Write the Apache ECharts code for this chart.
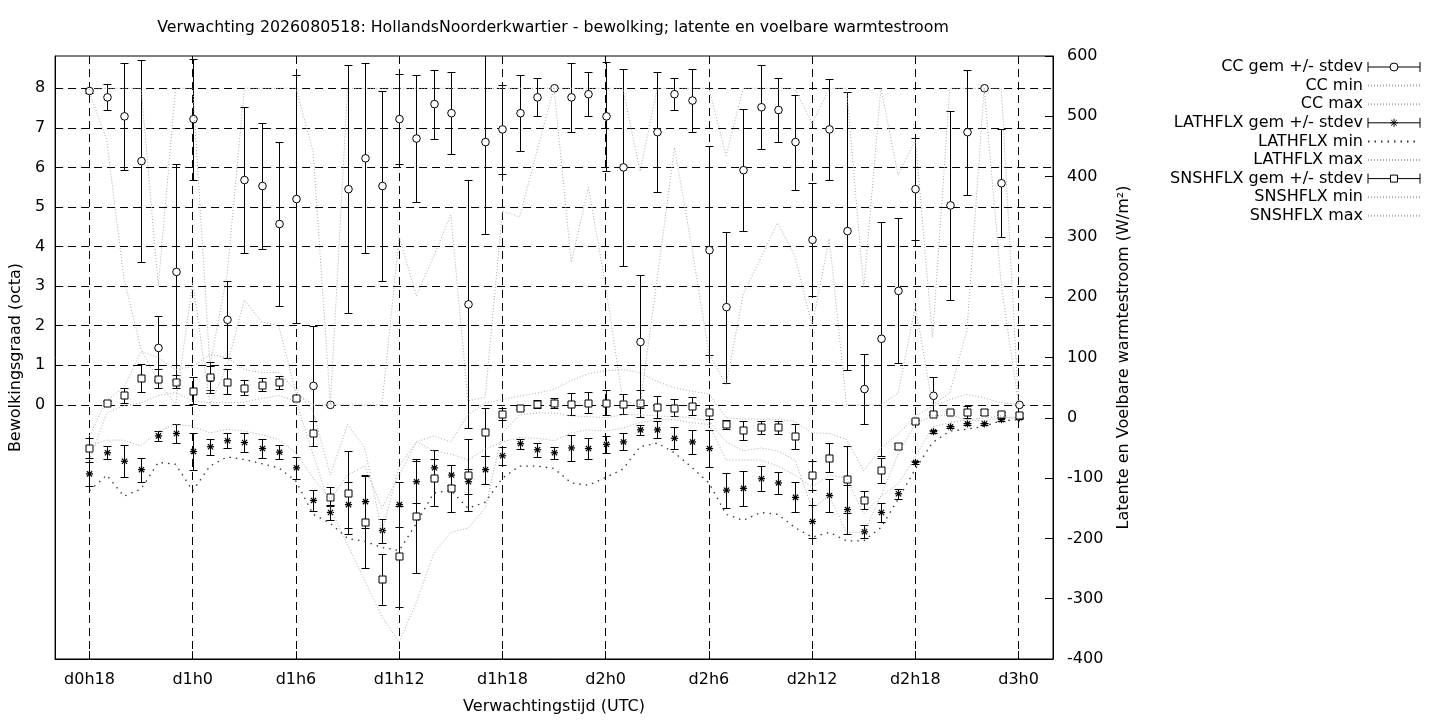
<!DOCTYPE html>
<html><head><meta charset="utf-8">
<script src="https://cdn.jsdelivr.net/npm/echarts@6/dist/echarts.min.js"></script>
<style>html,body{margin:0;padding:0;background:#fff}#c{width:1440px;height:720px}</style>
</head><body><div id="c"></div>
<script>
const hours = [18,19,20,21,22,23,24,25,26,27,28,29,30,31,32,33,34,35,36,37,38,39,40,41,42,43,44,45,46,47,48,49,50,51,52,53,54,55,56,57,58,59,60,61,62,63,64,65,66,67,68,69,70,71,72];
const xTicks = [18,24,30,36,42,48,54,60,66,72];
const xTickLabels = ['d0h18','d1h0','d1h6','d1h12','d1h18','d2h0','d2h6','d2h12','d2h18','d3h0'];
const ccTicks = [0,1,2,3,4,5,6,7,8];

const ccGem = [7.93,7.77,7.29,6.16,1.44,3.36,7.22,0.68,2.15,5.68,
 5.53,4.57,5.20,0.48,0.00,5.45,6.23,5.53,7.22,6.73,
 7.60,7.37,2.54,6.64,6.96,7.37,7.77,8.00,7.77,7.85,
 7.29,6.00,1.59,6.89,7.85,7.69,3.91,2.47,5.93,7.52,
 7.45,6.64,4.17,6.96,4.39,0.40,1.67,2.88,5.45,0.23,
 5.04,6.89,8.00,5.60,0.00];
const ccSd = [0.05,0.33,1.35,2.56,0.80,2.72,1.53,0.30,0.97,1.84,
 1.60,2.07,3.13,1.52,0.00,3.13,2.40,2.40,1.13,1.61,
 0.87,1.03,3.13,2.32,1.13,0.96,0.48,0.00,0.87,0.56,
 1.37,2.48,1.68,1.51,0.40,0.79,2.64,1.91,1.54,1.06,
 0.80,1.20,1.43,1.28,3.52,0.89,2.96,1.83,1.29,0.47,
 2.39,1.58,0.00,1.36,0.00];
const ccMin = [7.88,6.70,3.20,1.40,0.60,0.00,3.10,0.00,1.00,2.65,
 2.10,2.00,0.30,0.00,0.00,0.00,0.00,0.00,4.25,2.75,
 3.75,4.80,0.10,0.20,4.90,4.75,6.40,8.00,3.60,5.50,
 3.00,0.10,0.00,3.20,6.50,4.00,1.30,0.50,2.80,3.70,
 4.60,3.75,2.00,4.20,0.00,0.00,0.00,0.30,2.50,0.00,
 0.30,1.90,8.00,3.00,0.00];
const ccMax = [7.97,8,8,8,3.0,8,8,1.0,3.3,8,
 8,8,8,6.4,0,8,8,8,8,8,
 8,8,8,8,8,8,8,8,8,8,
 8,8,5.9,8,8,8,8,6.3,8,8,
 8,8,7.1,8,8,2.95,8,5.8,6.7,1.7,
 8,8,8,8,0];

const lathGem = [-93,-58,-72,-86,-30,-26,-56,-48,-38,-41,
 -51,-57,-83,-137,-157,-144,-139,-187,-144,-106,
 -83,-95,-106,-86,-63,-43,-53,-58,-50,-51,
 -44,-40,-20,-20,-34,-40,-51,-120,-117,-101,
 -108,-132,-172,-129,-152,-189,-157,-126,-74,-23,
 -15,-10,-10,-3,0];
const lathSd = [20,11,27,20,8,15,30,13,12,15,
 16,12,18,17,12,38,43,20,37,35,
 15,17,21,23,15,8,12,10,21,18,
 14,14,8,14,18,20,30,29,29,21,
 18,25,27,28,41,11,16,8,3,3,
 2,2,2,2,2];
const lathMin = [-121,-95,-130,-118,-74,-77,-121,-80,-65,-69,
 -76,-83,-105,-160,-175,-200,-205,-215,-220,-175,
 -125,-120,-150,-140,-100,-80,-80,-84,-108,-112,
 -99,-85,-48,-42,-58,-82,-108,-160,-170,-157,
 -160,-182,-198,-190,-204,-204,-182,-135,-85,-41,
 -22,-19,-14,-5,-3];
const lathMax = [-47,-37,-37,-47,-22,-11,-14,-25,-19,-22,
 -28,-36,-58,-100,-135,-95,-80,-150,-95,-40,
 -55,-60,-70,-52,-40,-33,-34,-38,-25,-20,
 -22,-17,-8,-3,-3,-8,-11,-70,-70,-70,
 -80,-95,-115,-95,-100,-160,-130,-110,-65,-15,
 -8,-3,-5,0,2];

const snshGem = [-50,25,37,66,65,60,45,67,60,50,
 55,59,33,-26,-131,-124,-172,-268,-230,-163,
 -100,-117,-95,-23,7,17,23,25,23,25,
 25,23,24,18,17,19,10,-11,-21,-16,
 -16,-31,-95,-66,-102,-137,-87,-47,-6,7,
 10,10,10,7,4];
const snshSd = [17,3,13,23,16,11,22,26,21,13,
 11,11,3,20,16,69,77,42,84,94,
 47,39,60,40,10,3,7,8,18,17,
 21,16,22,18,14,15,12,8,15,11,
 11,21,24,24,56,15,21,5,2,2,
 2,10,5,2,4];
const snshMin = [-70,8,20,25,37,42,28,25,25,26,
 32,37,28,-60,-150,-210,-270,-330,-372,-306,
 -225,-190,-183,-150,-25,5,8,8,3,2,
 0,5,5,3,2,0,-5,-40,-55,-50,
 -55,-70,-150,-130,-190,-190,-130,-60,-10,3,
 5,-3,0,3,-3];
const snshMax = [-30,30,50,110,100,80,85,105,100,80,
 75,75,45,10,-95,-11,-50,-190,-80,-40,
 -30,-40,5,25,30,36,41,47,62,73,
 78,80,75,60,50,44,40,0,-2,-2,
 -3,-6,-25,-26,-36,-88,-50,-27,3,19,
 30,39,33,25,22];

const FONT = 'DejaVu Sans';
const FS = 16;
const GREY = '#aaaaaa';

function errData(mean, sd) {
  return hours.map((h, i) => [h, mean[i], mean[i] - sd[i], mean[i] + sd[i]]);
}
function lineData(vals) { return hours.map((h, i) => [h, vals[i]]); }

function errRender(shape) {
  return function (params, api) {
    const x = api.value(0), m = api.value(1), lo = api.value(2), hi = api.value(3);
    const pm = api.coord([x, m]), pl = api.coord([x, lo]), ph = api.coord([x, hi]);
    const cx = Math.round(pm[0]) + 0.5;
    const yl = Math.round(pl[1]) + 0.5, yh = Math.round(ph[1]) + 0.5;
    const cw = 4;
    const st = { stroke: '#000', lineWidth: 1, fill: null };
    const ch = [
      { type: 'line', shape: { x1: cx, y1: yl, x2: cx, y2: yh }, style: st },
      { type: 'line', shape: { x1: cx - cw, y1: yl, x2: cx + cw, y2: yl }, style: st },
      { type: 'line', shape: { x1: cx - cw, y1: yh, x2: cx + cw, y2: yh }, style: st }
    ];
    const ps = { fill: '#fff', stroke: '#000', lineWidth: 1 };
    if (shape === 'circle') {
      ch.push({ type: 'circle', shape: { cx: cx, cy: pm[1], r: 3.8 }, style: ps });
    } else if (shape === 'square') {
      const ym = Math.round(pm[1]) + 0.5;
      ch.push({ type: 'rect', shape: { x: cx - 3.5, y: ym - 3.5, width: 7, height: 7 }, style: ps });
    } else {
      const r = 3.6, d = 2.6;
      const as = { stroke: '#000', lineWidth: 1.2, fill: null };
      ch.push({ type: 'line', shape: { x1: cx - r, y1: pm[1], x2: cx + r, y2: pm[1] }, style: as });
      ch.push({ type: 'line', shape: { x1: cx, y1: pm[1] - r, x2: cx, y2: pm[1] + r }, style: as });
      ch.push({ type: 'line', shape: { x1: cx - d, y1: pm[1] - d, x2: cx + d, y2: pm[1] + d }, style: as });
      ch.push({ type: 'line', shape: { x1: cx - d, y1: pm[1] + d, x2: cx + d, y2: pm[1] - d }, style: as });
    }
    return { type: 'group', children: ch };
  };
}

function errSeries(name, yIdx, data, shape) {
  return {
    type: 'custom', name: name, yAxisIndex: yIdx, data: data, clip: true,
    renderItem: errRender(shape), encode: { x: 0, y: [1, 2, 3] },
    itemStyle: { color: '#000' }, silent: true
  };
}
function dotSeries(name, yIdx, data, color, dash, width) {
  return {
    type: 'line', name: name, yAxisIndex: yIdx, data: data, symbol: 'none', clip: true,
    lineStyle: { color: color, width: width || 1, type: dash },
    itemStyle: { color: 'rgba(0,0,0,0)', borderColor: 'rgba(0,0,0,0)', borderWidth: 0 }, silent: true
  };
}

const iconCircle = 'path://M0,0L0,10M0,5L22,5M30,5L52,5M52,0L52,10M30,5A4,4,0,1,1,22,5A4,4,0,1,1,30,5Z';
const iconStar = 'path://M0,0L0,10M0,5L52,5M52,0L52,10M22,5L30,5M26,1L26,9M23.2,2.2L28.8,7.8M28.8,2.2L23.2,7.8';
const iconSquare = 'path://M0,0L0,10M0,5L22.5,5M29.5,5L52,5M52,0L52,10M22.5,1.5L29.5,1.5L29.5,8.5L22.5,8.5Z';
const errLegendStyle = { color: '#fff', borderColor: '#000', borderWidth: 1 };
const dotLegendStyle = { color: 'rgba(0,0,0,0)', borderColor: 'rgba(0,0,0,0)', borderWidth: 0 };

const chart = echarts.init(document.getElementById('c'));
chart.setOption({
  animation: false,
  backgroundColor: '#fff',
  title: {
    text: 'Verwachting 2026080518: HollandsNoorderkwartier - bewolking; latente en voelbare warmtestroom',
    left: 548, top: 15, textAlign: 'center',
    textStyle: { fontFamily: FONT, fontSize: 15.8, fontWeight: 'normal', color: '#000' }
  },
  legend: {
    orient: 'vertical', right: 14, top: 54, align: 'right',
    itemWidth: 52, itemHeight: 10, itemGap: 2.6, selectedMode: false,
    textStyle: { fontFamily: FONT, fontSize: FS, color: '#000' },
    data: [
      { name: 'CC gem +/- stdev', icon: iconCircle, itemStyle: errLegendStyle },
      { name: 'CC min', itemStyle: dotLegendStyle },
      { name: 'CC max', itemStyle: dotLegendStyle },
      { name: 'LATHFLX gem +/- stdev', icon: iconStar, itemStyle: errLegendStyle },
      { name: 'LATHFLX min', itemStyle: dotLegendStyle },
      { name: 'LATHFLX max', itemStyle: dotLegendStyle },
      { name: 'SNSHFLX gem +/- stdev', icon: iconSquare, itemStyle: errLegendStyle },
      { name: 'SNSHFLX min', itemStyle: dotLegendStyle },
      { name: 'SNSHFLX max', itemStyle: dotLegendStyle }
    ]
  },
  grid: { left: 54, right: 387, top: 56, bottom: 61, show: true, borderColor: '#000', borderWidth: 1 },
  xAxis: {
    type: 'value', min: 16, max: 74,
    name: 'Verwachtingstijd (UTC)', nameLocation: 'middle', nameGap: 40,
    nameTextStyle: { fontFamily: FONT, fontSize: FS, color: '#000' },
    axisLine: { show: true, onZero: false, lineStyle: { color: '#000' } },
    axisTick: { show: true, inside: true, length: 8, customValues: xTicks, lineStyle: { color: '#000' } },
    axisLabel: {
      customValues: xTicks, margin: 13, fontFamily: FONT, fontSize: FS, color: '#000',
      formatter: v => xTickLabels[xTicks.indexOf(v)]
    },
    splitLine: { show: true, lineStyle: { color: '#000', type: [8, 5], width: 1 } }
  },
  yAxis: [
    {
      type: 'value', min: -6.42, max: 8.815, position: 'left',
      name: 'Bewolkingsgraad (octa)', nameLocation: 'middle', nameGap: 26, nameRotate: 90,
      nameTextStyle: { fontFamily: FONT, fontSize: FS, color: '#000' },
      axisLine: { show: true, onZero: false, lineStyle: { color: '#000' } },
      axisTick: { show: true, inside: true, length: 8, customValues: ccTicks, lineStyle: { color: '#000' } },
      axisLabel: { customValues: ccTicks, margin: 10, fontFamily: FONT, fontSize: FS, color: '#000' },
      splitLine: { show: true, lineStyle: { color: '#000', type: [8, 5], width: 1 } }
    },
    {
      type: 'value', min: -400, max: 600, interval: 100, position: 'right',
      name: 'Latente en Voelbare warmtestroom (W/m²)', nameLocation: 'middle', nameGap: 63, nameRotate: 90,
      nameTextStyle: { fontFamily: FONT, fontSize: FS, color: '#000' },
      axisLine: { show: true, onZero: false, lineStyle: { color: '#000' } },
      axisTick: { show: true, inside: true, length: 8, lineStyle: { color: '#000' } },
      axisLabel: { margin: 14, fontFamily: FONT, fontSize: FS, color: '#000' },
      splitLine: { show: false }
    }
  ],
  series: [
    errSeries('CC gem +/- stdev', 0, errData(ccGem, ccSd), 'circle'),
    dotSeries('CC min', 0, lineData(ccMin), GREY, [1, 2]),
    dotSeries('CC max', 0, lineData(ccMax), GREY, [1, 2]),
    errSeries('LATHFLX gem +/- stdev', 1, errData(lathGem, lathSd), 'star'),
    dotSeries('LATHFLX min', 1, lineData(lathMin), '#333', [1.5, 5], 1.3),
    dotSeries('LATHFLX max', 1, lineData(lathMax), GREY, [1, 2]),
    errSeries('SNSHFLX gem +/- stdev', 1, errData(snshGem, snshSd), 'square'),
    dotSeries('SNSHFLX min', 1, lineData(snshMin), GREY, [1, 2]),
    dotSeries('SNSHFLX max', 1, lineData(snshMax), GREY, [1, 2])
  ]
});
</script>
</body></html>
